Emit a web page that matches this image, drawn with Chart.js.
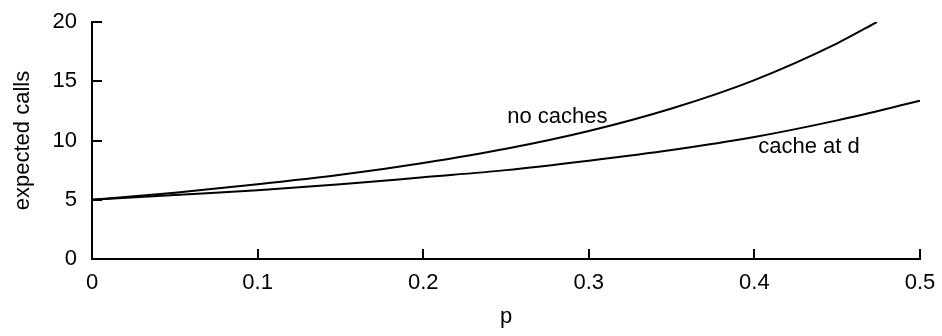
<!DOCTYPE html>
<html>
<head>
<meta charset="utf-8">
<script src="https://cdn.jsdelivr.net/npm/chart.js@4.4.0/dist/chart.umd.min.js"></script>
<style>
  html, body { margin: 0; padding: 0; background: #fff; }
  #wrap { width: 942px; height: 336px; position: relative; }
</style>
</head>
<body>
<div id="wrap"><canvas id="mycanvas"></canvas></div>
<script>
// values
var pNoCache = [0, 0.05, 0.1, 0.15, 0.2, 0.25, 0.3, 0.35, 0.4, 0.45, 0.474];
var callsNoCache = [5.0, 5.6, 6.3, 7.1, 8.1, 9.3, 10.8, 12.7, 15.1, 18.2, 20.0];

var pCacheD = [0, 0.05, 0.1, 0.15, 0.2, 0.25, 0.3, 0.35, 0.4, 0.45, 0.5];
var callsCacheD = [5.0, 5.4, 5.8, 6.3, 6.9, 7.5, 8.3, 9.2, 10.3, 11.7, 13.35];

var xTicks = [0, 0.1, 0.2, 0.3, 0.4, 0.5];
var yTicks = [0, 5, 10, 15, 20];

// curve labels, placed in data coordinates
var curveLabels = [
  { text: "no caches", p: 0.281, calls: 12.0 },
  { text: "cache at d", p: 0.433, calls: 9.45 }
];

var FONT = "'Liberation Sans', Arial, Helvetica, sans-serif";
var FSIZE = 22;

function toPoints(xs, ys) {
  var pts = [];
  for (var i = 0; i < xs.length; i++) {
    pts.push({ x: xs[i], y: ys[i] });
  }
  return pts;
}

// ticks pointing into the plot, plus the curve labels
var extras = {
  id: "extras",
  afterDraw: function(chart) {
    var ctx = chart.ctx;
    var xs = chart.scales.x, ys = chart.scales.y;
    var area = chart.chartArea;
    ctx.save();
    ctx.strokeStyle = "#000";
    ctx.lineWidth = 2;
    ctx.beginPath();
    xTicks.forEach(function(v) {
      var px = Math.round(xs.getPixelForValue(v));
      ctx.moveTo(px, area.bottom);
      ctx.lineTo(px, area.bottom - 10);
    });
    yTicks.forEach(function(v) {
      var py = Math.round(ys.getPixelForValue(v));
      ctx.moveTo(area.left, py);
      ctx.lineTo(area.left + 10, py);
    });
    ctx.stroke();

    ctx.fillStyle = "#000";
    ctx.font = FSIZE + "px " + FONT;
    ctx.textAlign = "center";
    ctx.textBaseline = "middle";
    curveLabels.forEach(function(l) {
      ctx.fillText(l.text, xs.getPixelForValue(l.p), ys.getPixelForValue(l.calls));
    });
    ctx.restore();
  }
};

var ctx = document.getElementById("mycanvas");

var chart = new Chart(ctx, {
  type: "line",
  data: {
    datasets: [
      {
        label: "no caches",
        data: toPoints(pNoCache, callsNoCache),
        borderColor: "#000",
        borderWidth: 2,
        pointRadius: 0,
        cubicInterpolationMode: "monotone",
        fill: false
      },
      {
        label: "cache at d",
        data: toPoints(pCacheD, callsCacheD),
        borderColor: "#000",
        borderWidth: 2,
        pointRadius: 0,
        cubicInterpolationMode: "monotone",
        fill: false
      }
    ]
  },
  options: {
    responsive: true,
    maintainAspectRatio: false,
    animation: false,
    layout: { padding: { top: 22, right: 22, left: 0, bottom: 0 } },
    plugins: {
      legend: { display: false },
      tooltip: { enabled: false }
    },
    scales: {
      x: {
        type: "linear",
        min: 0,
        max: 0.5,
        afterFit: function(s) {
          s.height = 77;
          s.paddingLeft = 0;
          s.paddingRight = 0;
        },
        afterBuildTicks: function(s) { s.ticks = xTicks.map(function(v) { return { value: v }; }); },
        grid: { display: true, drawOnChartArea: false, drawTicks: false },
        border: { display: true, color: "#000", width: 2 },
        ticks: {
          color: "#000",
          padding: 11,
          maxRotation: 0,
          font: { family: FONT, size: FSIZE },
          callback: function(v) { return String(v); }
        },
        title: {
          display: true,
          text: "p",
          color: "#000",
          padding: { top: 0, bottom: 6 },
          font: { family: FONT, size: FSIZE }
        }
      },
      y: {
        min: 0,
        max: 20,
        afterFit: function(s) {
          s.width = 92;
          s.paddingTop = 0;
          s.paddingBottom = 0;
        },
        afterBuildTicks: function(s) { s.ticks = yTicks.map(function(v) { return { value: v }; }); },
        grid: { display: true, drawOnChartArea: false, drawTicks: false },
        border: { display: true, color: "#000", width: 2 },
        ticks: {
          color: "#000",
          padding: 15,
          font: { family: FONT, size: FSIZE }
        },
        title: {
          display: true,
          text: "expected calls",
          color: "#000",
          padding: { top: 10, bottom: 0 },
          font: { family: FONT, size: FSIZE }
        }
      }
    }
  },
  plugins: [extras]
});
</script>
</body>
</html>
